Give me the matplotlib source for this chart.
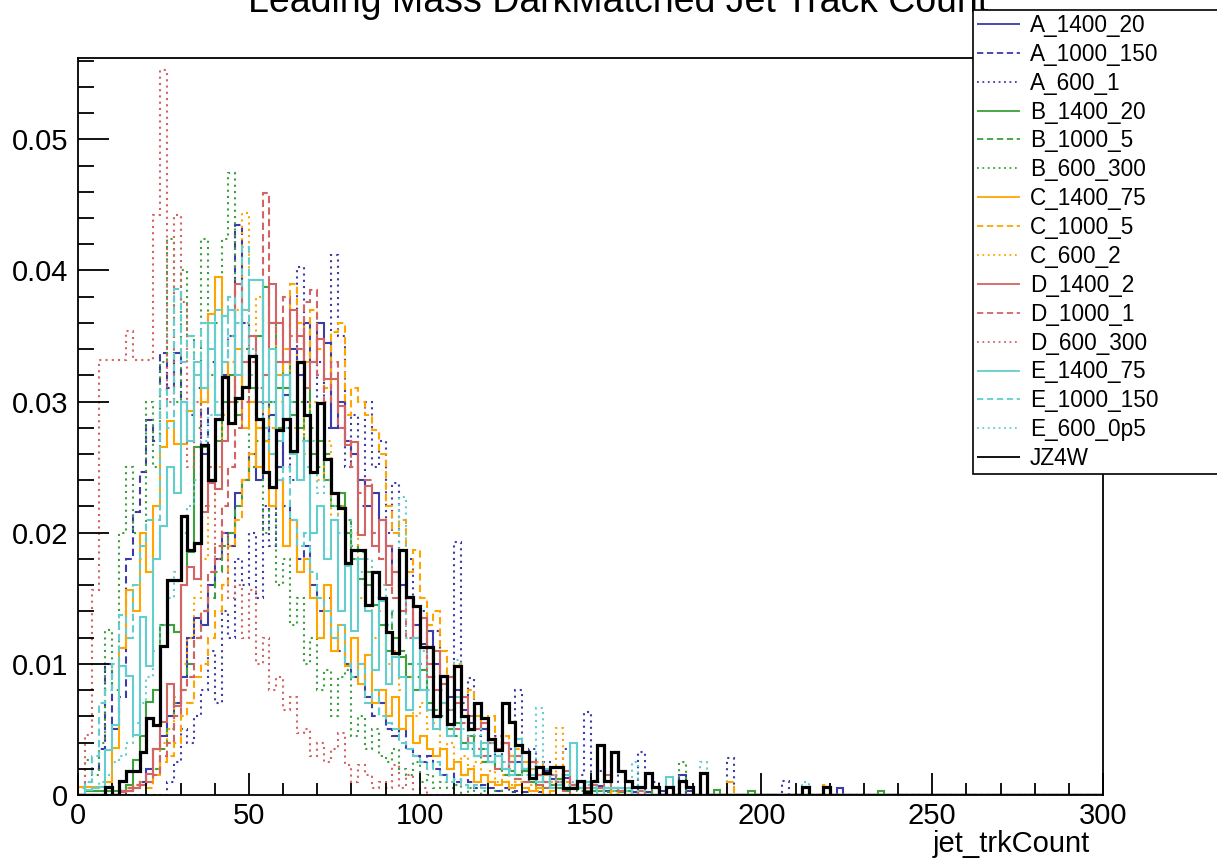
import numpy as np
import matplotlib.pyplot as plt
from matplotlib.lines import Line2D
from matplotlib.ticker import MultipleLocator, FixedFormatter, FixedLocator

plt.rcParams['font.family'] = ['Liberation Sans', 'DejaVu Sans']

# histogram binning: 150 bins of width 2 between 0 and 300
edges = np.arange(0, 302, 2)

# bin contents (units of 1e-3), first bin starts at 0
a_1400_20 = [0, 0, 0, 0, 0, 0, 0, 0.3, 0.5, 1.0, 2.0, 3.5, 4.5, 6.0, 7.0, 9.0, 12.0, 13.5, 13.0, 16.0,
             18.0, 20.0, 19.0, 23.0, 24.0, 26.0, 24.0, 27.0, 29.0, 25.0, 30.5, 34.0, 32.0, 36.0, 33.0, 36.0, 34.5, 28.0, 30.0, 27.0,
             26.0, 24.0, 22.0, 23.0, 21.0, 19.0, 17.0, 16.0, 15.0, 13.0, 11.5, 12.5, 10.0, 9.0, 7.5, 8.0, 6.5, 5.5, 6.0, 5.0,
             4.0, 3.5, 4.0, 3.0, 2.5, 2.0, 2.5, 1.5, 1.8, 1.2, 1.0, 1.3, 0.8, 0.5, 1.0, 0.5, 0.7, 0.3, 0.5, 0.5,
             0.3, 0.2, 0.5, 0.2, 0, 0.3, 0, 0, 1.5, 0.3, 0, 0, 0, 0, 0, 0, 0, 0, 0, 0,
             0, 0, 0, 0, 0, 0, 0, 0, 0, 0, 0, 0.5]
a_1000_150 = [0, 1.0, 2.0, 3.5, 10.0, 5.0, 7.5, 18.0, 21.6, 24.6, 28.6, 27.0, 33.7, 31.0, 33.7, 30.0, 29.0, 31.0, 26.0, 33.0,
              29.0, 32.0, 35.0, 43.5, 36.0, 31.0, 28.0, 30.0, 26.0, 24.0, 22.0, 21.0, 18.0, 19.0, 16.0, 14.0, 15.0, 12.0, 11.0, 10.0,
              9.0, 10.0, 7.5, 6.0, 7.0, 5.0, 4.5, 5.0, 3.5, 3.0, 2.5, 3.0, 2.0, 1.5, 2.0, 1.0, 1.5, 1.0, 0.5, 0.8,
              0.5, 0.3, 0.5, 0.2, 0.3, 0.2, 0, 0.2]
a_600_1 = [0, 0, 0, 0, 0, 0, 0, 0, 0, 0, 0, 0, 0, 1.0, 2.5, 5.0, 4.0, 6.0, 8.0, 11.0,
           7.0, 14.0, 12.0, 18.0, 16.0, 20.0, 15.0, 22.0, 19.0, 25.0, 28.0, 24.0, 40.3, 30.0, 26.0, 33.0, 28.0, 41.2, 35.0, 25.0,
           29.0, 22.0, 30.0, 25.0, 27.0, 20.0, 23.8, 16.0, 18.0, 12.0, 14.0, 10.0, 12.5, 8.0, 9.0, 19.3, 7.0, 8.9, 4.5, 5.0,
           3.0, 4.5, 2.0, 3.5, 8.0, 2.0, 3.5, 1.0, 2.5, 1.5, 1.0, 3.5, 0.8, 1.5, 6.3, 1.0, 1.8, 0.5, 3.3, 0,
           0.5, 0, 3.3, 0, 1.0, 0, 0, 0, 1.0, 0, 0, 0, 0, 0, 0, 2.8, 0, 0, 0, 0,
           0, 0, 0, 1.1]
b_1400_20 = [0, 0.3, 0.3, 0.3, 0.3, 0.3, 0.3, 0.8, 2.7, 4.5, 7.1, 8.0, 13.0, 13.0, 12.4, 16.0, 18.5, 26.5, 26.5, 24.0,
             27.0, 30.0, 32.0, 29.0, 33.0, 31.0, 35.0, 38.7, 36.0, 31.0, 33.0, 30.0, 28.0, 31.0, 26.0, 27.0, 24.0, 22.0, 23.0, 20.0,
             18.0, 16.5, 17.0, 14.5, 13.0, 11.0, 12.0, 10.5, 9.0, 8.0, 9.5, 7.0, 6.0, 7.0, 5.0, 5.5, 4.0, 4.5, 3.0, 3.5,
             2.5, 3.0, 2.0, 2.5, 1.5, 1.8, 1.0, 1.5, 1.0, 0.8, 1.2, 0.5, 0.8, 0.5, 0.3, 0.5, 0.3, 0.5, 0.3, 0.2,
             0.3, 0, 0.3, 0, 0.5, 0, 0, 0, 0, 0, 0, 0, 0, 0.4, 0, 0, 0, 0, 0.3, 0,
             0, 0, 0, 0, 0, 0, 0, 0, 0, 0, 0, 0, 0, 0, 0, 0, 0, 0.3]
b_1000_5 = [0, 0, 0, 0, 0, 0, 0.3, 0.5, 0.8, 1.0, 1.0, 2.0, 3.5, 5.0, 7.0, 8.0, 10.0, 12.0, 14.0, 15.0,
            17.0, 19.0, 20.0, 22.0, 24.0, 25.0, 27.0, 28.0, 30.0, 28.0, 31.0, 29.0, 30.0, 27.0, 28.0, 25.0, 26.0, 23.0, 22.0, 21.0,
            19.0, 18.5, 16.0, 17.0, 15.0, 14.0, 12.0, 11.0, 10.0, 9.0, 8.0, 7.5, 6.5, 6.0, 5.0, 4.5, 4.0, 3.5, 3.0, 2.5,
            2.5, 2.0, 1.5, 1.8, 1.2, 1.0, 1.0, 0.8, 0.5, 0.8, 0.5, 0.3, 0.5, 0.3, 0.2, 0.3, 0, 0.2, 0, 0.3]
b_600_300 = [0, 2.7, 1.5, 4.0, 12.6, 8.0, 20.0, 25.0, 20.0, 18.0, 30.0, 25.0, 33.0, 42.4, 30.0, 40.0, 35.0, 28.0, 42.4, 32.0,
             36.0, 42.4, 47.4, 30.0, 34.0, 25.0, 28.0, 20.0, 22.0, 16.0, 18.0, 13.0, 15.0, 10.0, 12.0, 8.0, 9.5, 6.0, 9.0, 9.5,
             4.5, 6.0, 3.5, 5.0, 3.0, 2.5, 3.5, 2.0, 1.5, 2.5, 1.0, 1.5, 0.5, 1.0, 0.5, 0.8, 0, 0.5, 0, 0.3,
             0, 0.3, 0, 0, 0, 0, 0, 0, 0, 0, 0, 0, 0, 0, 0, 0, 0, 0, 0, 0,
             0, 0, 0, 0, 0, 0, 0, 0, 2.5]
c_1400_75 = [0.6, 0.6, 0.6, 0.6, 1.0, 3.6, 11.2, 15.6, 14.0, 20.0, 17.0, 22.0, 26.5, 28.5, 26.8, 26.8, 29.3, 32.0, 30.0, 36.7,
             39.5, 33.0, 30.0, 34.0, 28.0, 30.0, 25.0, 27.0, 22.0, 24.0, 19.0, 21.0, 17.0, 18.0, 15.0, 12.0, 16.0, 11.0, 13.0, 9.8,
             12.0, 8.5, 10.7, 7.0, 8.0, 6.0, 7.5, 5.0, 6.0, 4.0, 4.5, 3.5, 3.0, 3.5, 2.0, 2.5, 1.5, 2.0, 1.0, 1.5,
             1.0, 0.8, 1.0, 0.5, 0.8, 0.5, 0.3, 0.5, 0, 0.3]
c_1000_5 = [0, 0, 0, 0, 0, 0, 0.3, 0.5, 0.8, 0.8, 0.5, 1.5, 2.5, 3.0, 4.0, 6.0, 7.0, 9.0, 10.0, 12.0,
            14.0, 16.0, 19.0, 21.0, 24.0, 26.0, 28.0, 30.0, 28.0, 32.0, 34.0, 39.0, 36.0, 33.0, 37.0, 34.0, 31.0, 35.3, 36.0, 29.0,
            31.0, 30.0, 29.0, 27.8, 26.0, 22.0, 20.0, 21.0, 17.0, 18.7, 15.0, 13.0, 14.0, 11.0, 9.0, 10.0, 7.5, 8.0, 6.0, 5.5,
            6.0, 4.0, 4.5, 3.0, 3.5, 2.5, 2.0, 2.5, 1.5, 1.0, 1.5, 1.0, 0.8, 0.5, 0.5, 1.0, 0.3, 0, 0.3, 0,
            0, 0, 0, 0, 0, 0, 0, 0, 0, 0, 0, 0, 0, 0, 0, 1.0, 0, 0, 0, 0,
            0, 0, 0, 0, 0, 0, 0, 0, 0, 0.8]
c_600_2 = [0, 0, 0, 0, 0, 0, 0, 0.5, 0.8, 1.0, 1.0, 2.0, 4.0, 5.0, 7.5, 10.0, 12.0, 15.0, 18.0, 22.0,
           25.0, 29.0, 33.0, 37.0, 44.4, 35.0, 38.0, 32.0, 36.0, 30.0, 33.0, 28.0, 34.0, 26.0, 30.0, 24.0, 27.0, 21.0, 22.0, 18.0,
           20.0, 15.0, 17.0, 12.0, 14.0, 10.0, 11.0, 8.0, 9.0, 6.0, 7.0, 5.0, 5.5, 3.5, 4.0, 2.5, 3.0, 2.0, 2.5, 1.5,
           1.8, 1.0, 1.5, 0.8, 1.0, 0.5, 0.8, 0.3, 0.5, 0.3, 5.1]
d_1400_2 = [0, 0, 0, 0, 0, 0, 0.2, 0.3, 0.5, 0.8, 1.6, 3.5, 5.6, 8.5, 6.8, 16.0, 17.4, 16.5, 21.6, 23.8,
            23.3, 27.0, 30.0, 39.0, 33.0, 35.0, 30.0, 32.0, 39.0, 36.0, 33.0, 37.0, 35.0, 31.0, 33.0, 34.8, 31.7, 31.7, 29.7, 26.7,
            26.9, 19.8, 23.6, 19.0, 21.0, 16.0, 17.0, 14.0, 15.0, 12.0, 13.5, 10.0, 11.0, 8.5, 9.0, 7.0, 7.5, 6.0, 5.0, 5.5,
            4.0, 3.5, 4.0, 2.5, 3.0, 2.0, 2.5, 1.5, 1.0, 1.5, 1.0, 1.8, 0.8, 1.0, 0.5, 0.8, 0.5, 1.5, 0.5, 0.3,
            0.5, 0, 0.3]
d_1000_1 = [0, 0, 0, 0, 0, 0, 0.3, 0.5, 0.8, 1.0, 1.0, 1.5, 3.0, 4.0, 6.0, 8.0, 9.0, 12.0, 14.0, 17.0,
            19.0, 22.0, 25.0, 28.0, 30.0, 33.0, 31.0, 45.9, 36.0, 33.0, 38.0, 35.0, 34.0, 37.6, 38.5, 32.0, 30.0, 33.0, 28.0, 27.0,
            25.0, 23.0, 24.0, 20.0, 18.0, 19.0, 15.0, 14.0, 12.0, 13.0, 10.0, 9.0, 8.0, 7.0, 6.5, 5.0, 5.5, 4.0, 3.5, 3.0,
            2.5, 2.0, 2.5, 1.5, 1.2, 1.0, 1.2, 0.8, 0.5, 0.8, 0.5, 0.3]
d_600_300 = [0, 4.6, 15.6, 33.2, 33.2, 33.2, 33.2, 35.4, 33.2, 33.2, 33.2, 44.2, 55.3, 30.0, 44.2, 37.6, 25.0, 30.0, 22.0, 25.0,
             18.0, 20.0, 15.0, 16.0, 12.0, 15.6, 10.0, 12.0, 8.0, 9.0, 6.5, 7.5, 4.7, 5.0, 3.0, 4.0, 2.5, 3.5, 4.7, 2.3,
             1.0, 2.3, 1.5, 0.5, 1.0, 0.5, 2.3, 0.5, 1.5, 0, 0.5]
e_1400_75 = [0, 0.4, 0.5, 0.6, 3.4, 5.3, 9.8, 9.1, 4.6, 13.6, 9.8, 18.0, 20.5, 25.0, 23.0, 30.0, 27.0, 33.0, 31.0, 36.0,
             29.0, 36.5, 37.0, 32.0, 37.0, 39.3, 39.3, 30.0, 34.0, 27.0, 32.0, 26.0, 24.0, 27.0, 20.0, 22.0, 18.0, 21.0, 14.0, 17.5,
             12.5, 18.0, 14.0, 9.5, 14.8, 8.5, 10.5, 9.0, 6.5, 12.0, 8.0, 6.5, 5.0, 7.0, 4.5, 7.5, 3.5, 4.0, 3.0, 4.0,
             2.5, 3.0, 2.0, 1.5, 4.3, 2.0, 1.5, 1.0, 2.0, 0.5, 0.8, 1.5, 4.0, 0.5, 1.0, 0.5, 0, 0.5, 0.5, 0.5,
             0.5, 0, 0, 0, 0, 0, 1.4]
e_1000_150 = [0.5, 1.0, 3.0, 7.0, 8.0, 10.0, 13.7, 12.0, 16.0, 19.0, 21.0, 21.0, 30.9, 28.0, 38.6, 33.0, 35.0, 32.0, 36.0, 34.0,
              37.0, 33.0, 38.0, 36.0, 41.8, 32.0, 30.0, 28.0, 26.0, 24.0, 25.0, 21.0, 19.0, 20.0, 17.0, 15.0, 14.0, 12.0, 13.0, 10.0,
              9.0, 10.0, 7.0, 8.0, 6.0, 5.5, 5.0, 4.0, 3.5, 3.0, 2.5, 2.0, 2.5, 1.5, 1.0, 1.2, 0.8, 0.5, 0.8, 0.5]
e_600_0p5 = [0, 0, 0.5, 1.0, 1.5, 2.5, 3.0, 4.0, 5.5, 7.0, 9.0, 11.0, 13.0, 15.0, 17.0, 20.0, 22.0, 24.0, 27.0, 29.0,
             30.0, 33.0, 35.0, 32.0, 36.0, 34.0, 31.0, 33.0, 30.0, 32.0, 28.0, 30.0, 27.0, 25.0, 27.0, 23.0, 24.0, 22.0, 20.0, 21.0,
             18.0, 17.0, 18.0, 15.0, 16.0, 13.0, 14.0, 22.7, 12.0, 10.0, 11.0, 8.0, 9.0, 7.0, 6.5, 10.3, 5.0, 4.5, 5.0, 3.5,
             4.0, 3.0, 2.5, 2.0, 2.5, 1.5, 2.0, 6.6, 1.0, 1.5, 1.0, 0.8, 1.0, 0.5, 0.8, 0.5, 1.0, 0.5, 0.3, 0.5,
             0.3, 2.5, 0.3, 0, 0, 0, 0, 0, 0, 0, 0, 2.5, 0, 0, 0, 0, 0, 0, 0, 0,
             0, 0, 0, 0, 0, 0, 1.0]
jz4w = [0, 0, 0, 0, 0.6, 0, 1.1, 1.8, 1.8, 3.3, 5.9, 5.3, 11.4, 16.4, 16.4, 21.3, 18.7, 19.2, 26.7, 24.0,
        28.7, 31.9, 28.4, 30.3, 31.1, 33.5, 28.7, 24.6, 23.5, 27.8, 28.7, 26.2, 33.0, 29.0, 24.6, 29.9, 25.6, 23.0, 21.9, 17.7,
        18.7, 18.7, 14.5, 17.0, 15.0, 12.4, 10.8, 18.7, 15.1, 14.4, 11.3, 11.3, 6.0, 9.1, 5.4, 9.8, 6.0, 5.0, 7.0, 5.9,
        4.3, 3.4, 7.0, 5.6, 3.8, 3.3, 1.3, 2.1, 1.7, 2.1, 2.1, 0.5, 0.5, 1.1, 0.2, 1.1, 3.8, 1.1, 3.3, 1.8,
        1.1, 0.6, 0.6, 1.7, 0.6, 0, 0.6, 0, 1.1, 0.6, 0, 1.7, 0, 0, 0, 0, 0, 0, 0, 0,
        0, 0, 0, 0, 0, 0, 0.6, 0, 0, 0.6]

labels = ["A_1400_20", "A_1000_150", "A_600_1", "B_1400_20", "B_1000_5", "B_600_300",
          "C_1400_75", "C_1000_5", "C_600_2", "D_1400_2", "D_1000_1", "D_600_300",
          "E_1400_75", "E_1000_150", "E_600_0p5", "JZ4W"]
series = [a_1400_20, a_1000_150, a_600_1, b_1400_20, b_1000_5, b_600_300,
          c_1400_75, c_1000_5, c_600_2, d_1400_2, d_1000_1, d_600_300,
          e_1400_75, e_1000_150, e_600_0p5, jz4w]

blue, green, orange, red, cyan = "#3c3ca8", "#3ca03c", "#ffa500", "#d46464", "#62cece"
colors = [blue] * 3 + [green] * 3 + [orange] * 3 + [red] * 3 + [cyan] * 3 + ["black"]
styles = [(0, ()), (0, (3.5, 2)), (0, (1, 2))] * 5 + [(0, ())]


def contents(vals):
    out = np.zeros(len(edges) - 1)
    out[:len(vals)] = np.asarray(vals) * 1e-3
    return out


fig = plt.figure(figsize=(12.17, 8.61), dpi=100)
ax = fig.add_axes([78 / 1217, 66 / 861, 1025 / 1217, 737 / 861])

for vals, lab, col, ls in zip(series, labels, colors, styles):
    lw = 2.3 if lab == "JZ4W" else 1.5
    ax.stairs(contents(vals), edges, color=col, linestyle=ls, lw=lw, label=lab)

ax.set_xlim(0, 300)
ax.set_ylim(0, 0.0562)
ax.xaxis.set_major_locator(MultipleLocator(50))
ax.xaxis.set_minor_locator(MultipleLocator(10))
ax.yaxis.set_major_locator(FixedLocator([0, 0.01, 0.02, 0.03, 0.04, 0.05]))
ax.yaxis.set_major_formatter(FixedFormatter(["0", "0.01", "0.02", "0.03", "0.04", "0.05"]))
ax.yaxis.set_minor_locator(MultipleLocator(0.002))
ax.tick_params(axis="both", which="both", direction="in", labelsize=21, width=1.3)
ax.tick_params(axis="y", which="major", length=22, pad=7)
ax.tick_params(axis="y", which="minor", length=11.5)
ax.tick_params(axis="x", which="major", length=16, pad=5)
ax.tick_params(axis="x", which="minor", length=8.5)
for sp in ax.spines.values():
    sp.set_linewidth(1.3)

ax.set_xlabel("jet_trkCount", fontsize=21, ha="right", va="center")
ax.xaxis.set_label_coords((1090 - 78) / 1025, -49 / 737)

fig.text(0.508, 1 - 12 / 861, "Leading Mass DarkMatched Jet Track Count",
         fontsize=27, ha="center", va="baseline")

leg_handles = [Line2D([], [], color=c, linestyle=s, lw=1.3)
               for c, s in zip(colors, styles)]
leg = fig.legend(leg_handles, labels, loc="upper left",
                 bbox_to_anchor=(973 / 1217, 1 - 10 / 861, 300 / 1217, 0.0),
                 mode="expand", borderaxespad=0, fontsize=16.3, frameon=True,
                 fancybox=False, edgecolor="black", framealpha=1,
                 handlelength=1.9, handletextpad=0.45, labelspacing=0.26,
                 borderpad=0.17)
leg.get_frame().set_linewidth(1.2)

fig.savefig("out.png", dpi=100)
